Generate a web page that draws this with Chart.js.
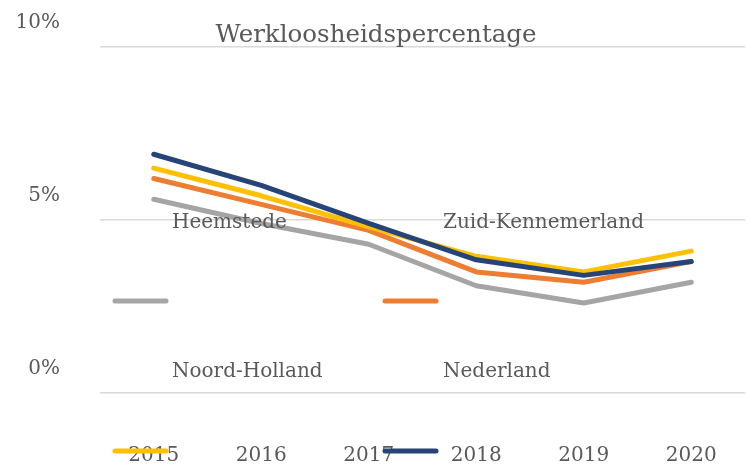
<!DOCTYPE html>
<html>
<head>
<meta charset="utf-8">
<script src="https://cdn.jsdelivr.net/npm/chart.js@4/dist/chart.umd.min.js"></script>
<style>
  html, body { margin: 0; padding: 0; background: #ffffff; }
  #wrap { width: 747px; height: 468px; position: relative; }
</style>
</head>
<body>
<div id="wrap"><canvas id="c" width="747" height="468"></canvas></div>
<script>
const years = ['2015', '2016', '2017', '2018', '2019', '2020'];
const heemstede = [5.6, 4.9, 4.3, 3.1, 2.6, 3.2];
const zuidKennemerland = [6.2, 5.45, 4.7, 3.5, 3.2, 3.8];
const noordHolland = [6.5, 5.7, 4.8, 3.95, 3.5, 4.1];
const nederland = [6.9, 6.0, 4.9, 3.85, 3.4, 3.8];
const seriesNames = ['Heemstede', 'Zuid-Kennemerland', 'Noord-Holland', 'Nederland'];
const seriesColors = ['#A5A5A5', '#ED7D31', '#FFC000', '#264478'];
const titleText = 'Werkloosheidspercentage';

const FONT = '"DejaVu Serif", "Liberation Serif", serif';
const TEXT = '#595959';

const overlayPlugin = {
  id: 'overlay',
  afterDraw(chart) {
    const ctx = chart.ctx;
    ctx.save();
    // title
    ctx.fillStyle = TEXT;
    ctx.font = '24.5px ' + FONT;
    ctx.textAlign = 'center';
    ctx.textBaseline = 'middle';
    ctx.fillText(titleText, 376, 36);
    // legend (as laid out in the reference)
    const slots = [
      {sx: 113, sy: 301, tx: 172, ty: 223},
      {sx: 383, sy: 301, tx: 443, ty: 223},
      {sx: 113, sy: 451, tx: 172, ty: 372},
      {sx: 383, sy: 451, tx: 443, ty: 372}
    ];
    ctx.textAlign = 'left';
    ctx.font = '20px ' + FONT;
    seriesNames.forEach((n, i) => {
      const s = slots[i];
      ctx.strokeStyle = seriesColors[i];
      ctx.lineWidth = 5;
      ctx.lineCap = 'round';
      ctx.beginPath();
      ctx.moveTo(s.sx + 2, s.sy);
      ctx.lineTo(s.sx + 53, s.sy);
      ctx.stroke();
      ctx.fillStyle = TEXT;
      ctx.fillText(n, s.tx, s.ty);
    });
    ctx.restore();
  }
};

const dataArrays = [heemstede, zuidKennemerland, noordHolland, nederland];
new Chart(document.getElementById('c'), {
  type: 'line',
  data: {
    labels: years,
    datasets: seriesNames.map((n, i) => ({
      label: n,
      data: dataArrays[i],
      borderColor: seriesColors[i],
      backgroundColor: seriesColors[i],
      borderWidth: 5,
      borderCapStyle: 'round',
      borderJoinStyle: 'round',
      pointRadius: 0,
      tension: 0,
      order: 4 - i
    }))
  },
  options: {
    responsive: false,
    animation: false,
    layout: { padding: { top: 47, right: 2, left: 0, bottom: 0 } },
    plugins: { legend: { display: false }, title: { display: false }, tooltip: { enabled: false } },
    scales: {
      x: {
        offset: true,
        afterFit(s) { s.height = 75; s.paddingLeft = 0; s.paddingRight = 0; },
        grid: { display: false, drawTicks: false },
        border: { display: false },
        ticks: { color: TEXT, font: { family: FONT, size: 20 }, padding: 51, maxRotation: 0 }
      },
      y: {
        min: 0, max: 10,
        afterFit(s) { s.width = 100; s.paddingTop = 0; s.paddingBottom = 0; },
        grid: { color: '#D9D9D9', lineWidth: 1.5, drawTicks: false },
        border: { display: false },
        ticks: {
          stepSize: 5,
          color: TEXT,
          font: { family: FONT, size: 20 },
          padding: 40,
          labelOffset: -24,
          callback: (v) => v + '%'
        }
      }
    }
  },
  plugins: [overlayPlugin]
});
</script>
</body>
</html>
